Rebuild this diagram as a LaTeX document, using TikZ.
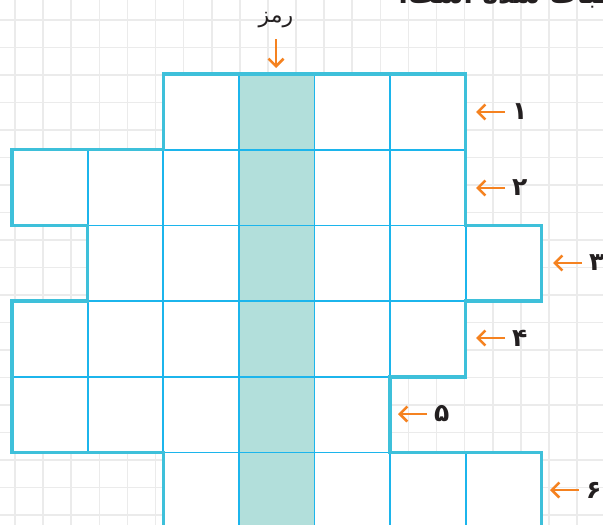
\documentclass[tikz,border=0pt]{standalone}
\usepackage{fontspec}
\usepackage{xcolor}
\usepackage{tikz}
\usetikzlibrary{arrows.meta,positioning}
\TeXXeTstate=1
\newfontfamily\arabicfont[Script=Arabic]{DejaVu Sans}
\definecolor{gridc}{HTML}{EBEBEB}
\definecolor{cellc}{HTML}{1CB5EC}
\definecolor{edgec}{HTML}{3EC0DA}
\definecolor{shadec}{HTML}{B2DFDB}
\definecolor{arrc}{HTML}{F58220}
\definecolor{txtc}{HTML}{231F20}
\tikzset{
  ar/.style={-{Straight Barb[length=7.5pt,width=15pt]},line width=2.6pt,arrc},
  cell/.style={draw=cellc,line width=1.8pt},
  edge/.style={draw=edgec,line width=3.4pt,line join=miter},
  lbl/.style={font={\arabicfont\bfseries\fontsize{25}{30}\selectfont},text=txtc,inner sep=1pt}
}

\begin{document}
\begin{tikzpicture}[x=1pt,y=-1pt]
\clip (0,0) rectangle (603,525);
% background paper
\foreach \k in {-1,...,21} \draw[gridc,line width=1.6pt] ({15+28.1*\k},-5) -- ({15+28.1*\k},530);
\foreach \k in {-1,...,19} \draw[gridc,line width=1.6pt] (-5,{20+27.5*\k}) -- (608,{20+27.5*\k});
% cells: row/first column/last column
\foreach \r/\a/\b in {0/2/5,1/0/5,2/1/6,3/0/5,4/0/4,5/2/6}
  \foreach \c in {\a,...,\b}{
    \ifnum\c=3 \def\fc{shadec}\else\def\fc{white}\fi
    \draw[cell,fill=\fc] ({12+75.6*\c},{74+75.7*\r}) rectangle ++(75.6,75.7);
  }
\draw[edge] (163.2,74) -| (465.6,225.4) -| (541.2,301.1) -| (465.6,376.8) -| (390,452.5)
  -| (541.2,535) -| (163.2,452.5) -| (12,301.1) -| (87.6,225.4) -| (12,149.7) -- (163.2,149.7) -- cycle;
% row labels
\foreach \i/\x/\y/\d in {1/476/112/۱,2/476/188/۲,3/553/263/۳,4/476/338/۴,5/398/414/۵,6/550/490/۶}{
  \coordinate (t\i) at (\x,\y);
  \node[lbl,right=35pt of t\i] (n\i) {\d};
  \draw[ar] ([xshift=-6pt]n\i.west) -- (t\i);
}
% key column
\node[lbl,font={\arabicfont\fontsize{22}{26}\selectfont}] (rmz) at (276,20) {\beginR رمز\endR};
\coordinate (rt) at (276,68);
\draw[ar] (276,39) -- (rt);
\node[lbl,anchor=base west,font={\arabicfont\bfseries\fontsize{27}{32}\selectfont}] (hd) at (397,3) {\beginR ن اثبات شده است.\endR};
\end{tikzpicture}
\end{document}
